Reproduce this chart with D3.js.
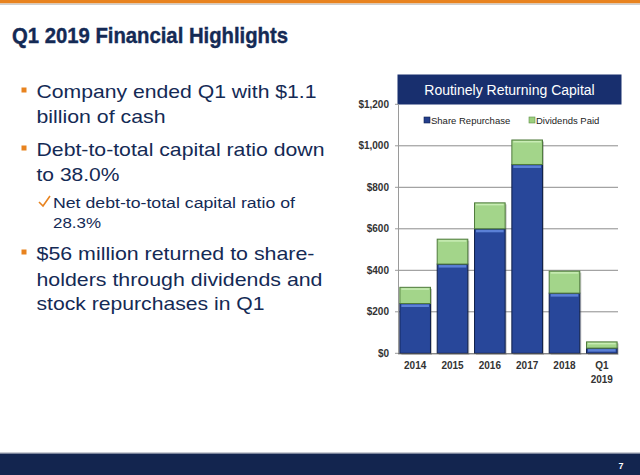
<!DOCTYPE html>
<html><head><meta charset="utf-8">
<script src="https://cdn.jsdelivr.net/npm/d3@7"></script>
<style>body{margin:0;background:#fff}svg{display:block}</style>
</head><body>
<svg id="c" width="640" height="475"></svg>
<script>
const categories = ["2014","2015","2016","2017","2018","Q1\n2019"];
const shareRepurchase = [240, 430, 600, 910, 290, 25];
const dividendsPaid = [78, 120, 125, 118, 106, 30];
const yTicks = [0, 200, 400, 600, 800, 1000, 1200];
const seriesNames = ["Share Repurchase", "Dividends Paid"];
const title = "Q1 2019 Financial Highlights";
const chartTitle = "Routinely Returning Capital";
const bullets = [
  {type:"main", lines:["Company ended Q1 with $1.1","billion of cash"], ys:[98,123], w:[280,129]},
  {type:"main", lines:["Debt-to-total capital ratio down","to 38.0%"], ys:[156,181], w:[288,83]},
  {type:"sub", lines:["Net debt-to-total capital ratio of","28.3%"], ys:[208,228], w:[242,48]},
  {type:"main", lines:["$56 million returned to share-","holders through dividends and","stock repurchases in Q1"], ys:[260,286,310], w:[278,286,228]}
];

const svg = d3.select("#c");
const navy = "#142a55";
const font = "'Liberation Sans', Arial, sans-serif";

// top orange bar
svg.append("rect").attr("x",0).attr("y",0).attr("width",640).attr("height",3.5).attr("fill","#e8831f");
svg.append("rect").attr("x",0).attr("y",3.5).attr("width",640).attr("height",1.5).attr("fill","#cfcfcf");
// bottom bar
svg.append("rect").attr("x",0).attr("y",452).attr("width",640).attr("height",1.5).attr("fill","#c9ccd3");
svg.append("rect").attr("x",0).attr("y",453.5).attr("width",640).attr("height",22).attr("fill","#13254f");
svg.append("text").attr("x",621).attr("y",469).attr("fill","#fff").attr("font-family",font)
  .attr("font-size",9).attr("font-weight","bold").attr("text-anchor","middle").text("7");

// title
svg.append("text").attr("x",12).attr("y",43).attr("fill",navy).attr("font-family",font)
  .attr("font-size",22).attr("font-weight","bold").attr("stroke",navy).attr("stroke-width",0.4)
  .attr("textLength",276).attr("lengthAdjust","spacingAndGlyphs").text(title);

// bullets
bullets.forEach(b => {
  const main = b.type === "main";
  if (main) {
    svg.append("rect").attr("x",21.5).attr("y",b.ys[0]-10.5).attr("width",5).attr("height",5).attr("fill","#e8831f");
  } else {
    svg.append("path").attr("d",`M39,${b.ys[0]-6} L43,${b.ys[0]-2} L50,${b.ys[0]-12}`)
      .attr("fill","none").attr("stroke","#e8831f").attr("stroke-width",1.6);
  }
  b.lines.forEach((ln,i) => {
    svg.append("text").attr("x", main?36.5:53).attr("y",b.ys[i]).attr("fill",navy)
      .attr("font-family",font).attr("font-size", main?19:15.5)
      .attr("textLength",b.w[i]).attr("lengthAdjust","spacingAndGlyphs").text(ln);
  });
});

// chart
const x = d3.scaleBand().domain(categories).range([398, 619]).paddingInner(0.18).paddingOuter(0.05);
const y = d3.scaleLinear().domain([0,1200]).range([353.3, 104.3]);

// header
svg.append("rect").attr("x",397.5).attr("y",74.5).attr("width",224).attr("height",30).attr("fill","#182f6e");
svg.append("text").attr("x",509.5).attr("y",95).attr("text-anchor","middle").attr("fill","#fff")
  .attr("font-family",font).attr("font-size",14).text(chartTitle);

// gridlines
svg.append("g").selectAll("line").data(yTicks.filter(d=>d>0 && d<1200)).join("line")
  .attr("x1",398).attr("x2",618).attr("y1",d=>y(d)).attr("y2",d=>y(d))
  .attr("stroke","#8c8c8c").attr("stroke-width",1);
// left axis line + ticks
svg.append("line").attr("x1",398.5).attr("x2",398.5).attr("y1",104.3).attr("y2",353.3).attr("stroke","#9a9a9a");
svg.append("g").selectAll("line").data(yTicks).join("line")
  .attr("x1",395).attr("x2",398.5).attr("y1",d=>y(d)).attr("y2",d=>y(d)).attr("stroke","#9a9a9a");

// y tick labels
svg.append("g").selectAll("text").data(yTicks).join("text")
  .attr("x",389).attr("y",d=>y(d)+3.5).attr("text-anchor","end").attr("fill","#333")
  .attr("font-family",font).attr("font-size",10).attr("font-weight","bold")
  .text(d=>"$"+d3.format(",")(d));

// legend
const legX = [424, 529];
const legCol = ["#243f8c","#9ccf7e"];
seriesNames.forEach((n,i)=>{
  svg.append("rect").attr("x",legX[i]).attr("y",117).attr("width",6).attr("height",6)
    .attr("fill",legCol[i]).attr("stroke",i?"#5f8f48":"#10214f").attr("stroke-width",0.6);
  svg.append("text").attr("x",legX[i]+7).attr("y",123.5).attr("fill","#222").attr("font-family",font)
    .attr("font-size",9.5).text(n);
});

// bars
const data = categories.map((c,i)=>({c, r:shareRepurchase[i], d:dividendsPaid[i]}));
const g = svg.append("g");
data.forEach(o=>{
  const bx = x(o.c), bw = x.bandwidth();
  g.append("rect").attr("x",bx+1.5).attr("y",y(o.r+o.d)+1.5).attr("width",bw).attr("height",y(0)-y(o.r+o.d))
    .attr("fill","#555").attr("opacity",0.35);
  g.append("rect").attr("x",bx).attr("y",y(o.r)).attr("width",bw).attr("height",y(0)-y(o.r))
    .attr("fill","#28479a").attr("stroke","#0f1f4a").attr("stroke-width",1);
  g.append("rect").attr("x",bx+1.5).attr("y",y(o.r)+1).attr("width",bw-3).attr("height",Math.min(2.5,y(0)-y(o.r)-1))
    .attr("fill","#5b80d6");
  g.append("rect").attr("x",bx).attr("y",y(o.r+o.d)).attr("width",bw).attr("height",y(o.r)-y(o.r+o.d))
    .attr("fill","#a3d58a").attr("stroke","#4e7a3b").attr("stroke-width",1);
  g.append("rect").attr("x",bx+1.5).attr("y",y(o.r+o.d)+1).attr("width",bw-3).attr("height",1.5)
    .attr("fill","#c9ecb5");
});

// x axis baseline
svg.append("line").attr("x1",398).attr("x2",618).attr("y1",y(0)+0.5).attr("y2",y(0)+0.5).attr("stroke","#555");

// x labels
categories.forEach(c=>{
  const parts = c.split("\n");
  parts.forEach((p,i)=>{
    svg.append("text").attr("x",x(c)+x.bandwidth()/2).attr("y",369+i*13.5).attr("text-anchor","middle")
      .attr("fill","#333").attr("font-family",font).attr("font-size",10).attr("font-weight","bold").text(p);
  });
});
</script>
</body></html>
